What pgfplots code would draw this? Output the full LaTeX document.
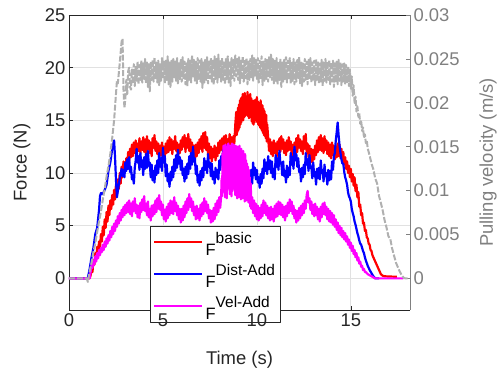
\documentclass[border=0pt]{standalone}
\usepackage{fontspec}
\setmainfont{Liberation Sans}
\usepackage{pgfplots}
\pgfplotsset{compat=1.18}
\definecolor{axc}{HTML}{262626}
\definecolor{velc}{HTML}{B0B0B0}
\definecolor{velax}{HTML}{808080}
\definecolor{gridc}{HTML}{E1E1E1}
\definecolor{cred}{RGB}{255,0,0}
\definecolor{cblue}{RGB}{0,0,255}
\definecolor{cmag}{RGB}{255,0,255}
\newcommand{\lsup}[1]{\rule{0pt}{27bp}\raisebox{12bp}{\fontsize{15.5}{16}\selectfont #1}\hspace{3bp}}
\begin{document}
\begin{tikzpicture}
\begin{axis}[name=ax, scale only axis, width=341bp, height=295bp,
  xmin=0, xmax=18.15, ymin=-3, ymax=25,
  xtick={0,5,10,15}, ytick={0,5,10,15,20,25}, xticklabels={},
  axis x line*=box, axis y line*=left,
  axis line style={axc, line width=0.6bp},
  tick align=inside, major tick length=4bp,
  tick style={axc, line width=0.6bp},
  grid=major, major grid style={gridc, line width=0.7bp},
  tick label style={font=\fontsize{18.5}{20}\selectfont, text=axc},
  /pgf/number format/assume math mode=true,
  label style={font=\fontsize{18.5}{20}\selectfont, text=axc},
  xlabel={Time (s)}, ylabel={Force (N)},
  xlabel style={at={(axis description cs:0.5,-0.1864)}, anchor=base},
  ylabel style={at={(axis description cs:-0.138,0.5)}, anchor=center},
  legend style={at={(axis description cs:0.2375,0.285)}, anchor=north west,
    draw=axc, line width=0.6bp, fill=white, font=\fontsize{16.5}{18}\selectfont,
    inner xsep=3bp, inner ysep=1.5bp,
    nodes={inner xsep=2bp, inner ysep=1bp, text depth=0bp},
    row sep=3bp, cells={anchor=west}},
  legend image code/.code={\path[draw=none] (0bp,-5bp) rectangle (48bp,5bp);
    \draw[#1, line width=2.4bp] (0bp,0bp) -- (48bp,0bp);},
  line join=round]
\addplot[cred, line width=2.2bp] table[row sep=\\] {
0 0\\ 1.1 0\\ 1.15 0.3\\ 1.2 0.9\\ 1.25 0.6\\ 1.3 1.7\\ 1.35 1.3\\ 1.4 2.4\\ 1.45 1.9\\ 1.5 3.0\\ 1.55 2.4\\ 1.6 3.5\\ 1.65 2.9\\ 1.7 4.2\\ 1.75 3.5\\ 1.8 4.9\\ 1.85 4.1\\ 1.9 5.6\\ 1.95 4.8\\ 2.0 6.3\\ 2.05 5.4\\ 2.1 6.9\\ 2.15 6.0\\ 2.2 7.4\\ 2.25 6.6\\ 2.3 7.9\\ 2.35 7.0\\ 2.4 8.4\\ 2.45 7.5\\ 2.5 8.9\\ 2.55 8.0\\ 2.6 9.4\\ 2.65 8.5\\ 2.7 10.0\\ 2.75 9.0\\ 2.8 10.6\\ 2.85 9.6\\ 2.9 11.1\\ 2.95 10.1\\
3.0 10.2\\ 3.05 11.4\\ 3.1 10.8\\ 3.15 12.0\\ 3.2 11.1\\ 3.25 12.3\\ 3.3 11.5\\ 3.35 12.7\\ 3.4 11.6\\ 3.45 12.9\\ 3.5 11.9\\ 3.55 13.1\\ 3.6 11.8\\ 3.65 12.8\\ 3.7 12.1\\ 3.75 13.3\\ 3.8 11.9\\ 3.85 13.0\\ 3.9 12.2\\ 3.95 13.4\\
4.0 12.0\\ 4.05 13.2\\ 4.1 11.7\\ 4.15 13.5\\ 4.2 12.3\\ 4.25 13.1\\ 4.3 11.9\\ 4.35 12.9\\ 4.4 11.6\\ 4.45 13.3\\ 4.5 12.4\\ 4.55 13.6\\ 4.6 12.1\\ 4.65 13.0\\ 4.7 11.8\\ 4.75 12.8\\ 4.8 11.4\\ 4.85 12.6\\ 4.9 11.7\\ 4.95 12.9\\
5.0 11.3\\ 5.05 12.5\\ 5.1 11.6\\ 5.15 12.8\\ 5.2 11.9\\ 5.25 13.1\\ 5.3 12.0\\ 5.35 13.4\\ 5.4 12.2\\ 5.45 13.2\\ 5.5 11.8\\ 5.55 13.0\\ 5.6 12.3\\ 5.65 13.5\\ 5.7 12.1\\ 5.75 12.9\\ 5.8 11.6\\ 5.85 12.7\\ 5.9 11.9\\ 5.95 13.1\\
6.0 12.2\\ 6.05 13.4\\ 6.1 12.5\\ 6.15 13.6\\ 6.2 12.0\\ 6.25 13.3\\ 6.3 12.4\\ 6.35 13.7\\ 6.4 12.1\\ 6.45 13.2\\ 6.5 11.8\\ 6.55 12.9\\ 6.6 11.5\\ 6.65 12.6\\ 6.7 11.3\\ 6.75 12.7\\ 6.8 11.6\\ 6.85 12.9\\ 6.9 11.9\\ 6.95 13.2\\
7.0 12.3\\ 7.05 13.5\\ 7.1 12.0\\ 7.15 13.8\\ 7.2 12.4\\ 7.25 13.9\\ 7.3 12.2\\ 7.35 13.4\\ 7.4 11.7\\ 7.45 12.8\\ 7.5 11.4\\ 7.55 12.5\\ 7.6 11.1\\ 7.65 12.3\\ 7.7 11.5\\ 7.75 12.6\\ 7.8 11.2\\ 7.85 12.4\\ 7.9 11.6\\ 7.95 12.9\\
8.0 11.9\\ 8.05 13.1\\ 8.1 12.2\\ 8.15 13.3\\ 8.2 12.0\\ 8.25 13.5\\ 8.3 12.4\\ 8.35 13.6\\ 8.4 12.1\\ 8.45 13.2\\ 8.5 12.6\\ 8.55 13.7\\ 8.6 12.3\\ 8.65 13.4\\ 8.7 12.7\\ 8.75 13.5\\ 8.8 12.8\\ 8.85 14.6\\
8.9 15.8\\ 8.925 13.6\\ 8.95 15.4\\ 8.975 13.9\\ 9.0 16.2\\ 9.025 14.1\\ 9.05 16.5\\ 9.075 14.3\\ 9.1 16.9\\ 9.125 14.6\\ 9.15 17.1\\ 9.175 14.8\\ 9.2 17.2\\ 9.225 15.1\\ 9.25 17.5\\ 9.275 15.0\\ 9.3 17.4\\ 9.325 15.3\\ 9.35 17.6\\ 9.375 15.4\\ 9.4 17.0\\ 9.425 15.6\\ 9.45 17.3\\ 9.475 15.5\\ 9.5 17.7\\ 9.525 15.4\\ 9.55 17.4\\ 9.575 15.2\\ 9.6 17.3\\ 9.625 15.6\\ 9.65 17.5\\ 9.675 15.3\\ 9.7 17.1\\ 9.725 14.9\\ 9.75 16.9\\ 9.775 14.7\\ 9.8 16.6\\ 9.825 14.6\\ 9.85 16.9\\ 9.875 14.8\\ 9.9 16.8\\ 9.925 15.2\\ 9.95 17.0\\ 9.975 15.0\\ 10.0 17.2\\ 10.025 14.8\\ 10.05 16.8\\ 10.075 14.6\\ 10.1 16.6\\ 10.125 14.5\\ 10.15 16.7\\ 10.175 14.3\\ 10.2 16.9\\ 10.225 14.2\\ 10.25 16.5\\ 10.275 14.0\\ 10.3 16.4\\ 10.325 13.8\\ 10.35 16.1\\ 10.375 13.6\\ 10.4 15.9\\ 10.425 13.5\\ 10.45 15.6\\ 10.475 13.3\\ 10.5 15.5\\ 10.525 13.0\\ 10.55 14.6\\
10.6 13.4\\ 10.65 12.1\\ 10.7 13.2\\ 10.75 11.8\\ 10.8 12.9\\ 10.85 11.6\\ 10.9 13.1\\ 10.95 11.9\\ 11.0 12.8\\ 11.05 11.5\\ 11.1 13.0\\ 11.15 12.2\\ 11.2 13.3\\ 11.25 12.0\\ 11.3 13.5\\ 11.35 12.3\\ 11.4 13.2\\ 11.45 11.9\\ 11.5 12.9\\ 11.55 11.7\\
11.6 13.1\\ 11.65 12.1\\ 11.7 13.4\\ 11.75 12.2\\ 11.8 13.0\\ 11.85 11.8\\ 11.9 12.7\\ 11.95 11.4\\ 12.0 12.9\\ 12.05 11.6\\ 12.1 13.3\\ 12.15 12.0\\ 12.2 13.6\\ 12.25 12.4\\ 12.3 13.2\\ 12.35 12.1\\ 12.4 13.0\\ 12.45 11.8\\ 12.5 13.5\\ 12.55 12.3\\
12.6 13.7\\ 12.65 12.0\\ 12.7 12.8\\ 12.75 11.5\\ 12.8 12.6\\ 12.85 11.2\\ 12.9 12.3\\ 12.95 11.0\\ 13.0 12.2\\ 13.05 11.3\\ 13.1 12.6\\ 13.15 11.7\\ 13.2 13.1\\ 13.25 12.0\\ 13.3 13.4\\ 13.35 12.2\\ 13.4 13.6\\ 13.45 12.1\\ 13.5 13.3\\ 13.55 11.9\\
13.6 13.5\\ 13.65 12.2\\ 13.7 13.1\\ 13.75 11.8\\ 13.8 12.9\\ 13.85 11.6\\ 13.9 12.7\\ 13.95 11.4\\ 14.0 12.9\\ 14.05 11.7\\ 14.1 12.6\\ 14.15 11.3\\ 14.2 12.5\\ 14.25 11.5\\ 14.3 12.8\\ 14.35 11.6\\ 14.4 12.7\\ 14.45 11.4\\ 14.5 12.3\\ 14.55 11.0\\
14.6 12.0\\ 14.65 10.8\\ 14.7 11.5\\ 14.75 10.4\\ 14.8 11.1\\ 14.85 10.0\\ 14.9 10.7\\ 14.95 9.6\\ 15.0 10.4\\ 15.05 9.2\\ 15.1 9.9\\ 15.15 8.8\\ 15.2 9.6\\ 15.25 8.3\\ 15.3 8.9\\ 15.35 7.7\\ 15.4 8.2\\ 15.45 6.8\\ 15.5 7.0\\ 15.55 6.0\\ 15.6 6.2\\ 15.65 5.2\\ 15.7 5.3\\ 15.75 4.5\\ 15.8 4.6\\ 15.85 3.9\\ 15.9 3.8\\ 15.95 3.3\\ 16.0 3.2\\ 16.05 2.7\\ 16.1 2.6\\ 16.15 2.2\\ 16.2 2.0\\ 16.3 1.6\\ 16.4 1.2\\ 16.5 0.8\\ 16.6 0.4\\ 16.7 0.25\\ 16.8 0.2\\ 17.45 0.15\\
};
\addlegendentry{F\lsup{basic}}
\addplot[cblue, line width=2.2bp] table[row sep=\\] {
0 0\\ 1.0 0\\ 1.1 0.9\\ 1.2 2.0\\ 1.3 2.9\\ 1.4 4.2\\ 1.5 4.8\\ 1.6 6.5\\ 1.65 7.8\\ 1.7 8.1\\ 1.8 8.0\\ 1.9 8.4\\ 2.0 8.9\\ 2.1 10.2\\ 2.2 11.0\\ 2.3 12.3\\ 2.4 13.1\\ 2.45 11.5\\ 2.5 9.4\\ 2.55 7.7\\ 2.6 8.3\\ 2.7 9.5\\
2.8 10.4\\ 2.85 9.7\\ 2.9 10.3\\ 2.95 9.6\\ 3.0 11.0\\ 3.05 10.2\\ 3.1 11.3\\ 3.15 10.4\\ 3.2 11.5\\ 3.25 10.1\\ 3.3 10.6\\ 3.35 9.4\\ 3.4 9.8\\ 3.45 9.0\\ 3.5 10.5\\ 3.55 11.2\\ 3.6 12.3\\ 3.65 11.0\\ 3.7 11.6\\ 3.75 10.3\\ 3.8 11.9\\ 3.85 10.6\\ 3.9 11.2\\ 3.95 9.8\\
4.0 11.5\\ 4.05 10.4\\ 4.1 11.8\\ 4.15 10.5\\ 4.2 12.1\\ 4.25 10.7\\ 4.3 11.0\\ 4.35 9.6\\ 4.4 10.8\\ 4.45 9.3\\ 4.5 10.2\\ 4.55 9.1\\ 4.6 10.7\\ 4.65 9.8\\ 4.7 11.2\\ 4.75 10.0\\ 4.8 11.9\\ 4.85 10.6\\ 4.9 11.4\\ 4.95 10.2\\
5.0 12.4\\ 5.05 11.0\\ 5.1 11.6\\ 5.15 9.7\\ 5.2 10.8\\ 5.25 9.2\\ 5.3 9.9\\ 5.35 8.7\\ 5.4 10.1\\ 5.45 9.3\\ 5.5 10.6\\ 5.55 9.6\\ 5.6 11.3\\ 5.65 10.2\\ 5.7 11.7\\ 5.75 10.5\\ 5.8 12.2\\ 5.85 10.9\\ 5.9 11.5\\ 5.95 10.3\\
6.0 11.2\\ 6.05 9.8\\ 6.1 10.4\\ 6.15 9.2\\ 6.2 10.6\\ 6.25 9.5\\ 6.3 10.9\\ 6.35 9.9\\ 6.4 11.6\\ 6.45 10.4\\ 6.5 11.9\\ 6.55 10.8\\ 6.6 12.5\\ 6.65 11.1\\ 6.7 11.4\\ 6.75 9.9\\ 6.8 10.7\\ 6.85 9.1\\ 6.9 9.8\\ 6.95 8.8\\
7.0 10.2\\ 7.05 9.3\\ 7.1 10.5\\ 7.15 9.6\\ 7.2 11.4\\ 7.25 10.3\\ 7.3 11.1\\ 7.35 10.0\\ 7.4 11.8\\ 7.45 10.6\\ 7.5 11.0\\ 7.55 9.7\\ 7.6 10.9\\ 7.65 9.4\\ 7.7 10.1\\ 7.75 9.0\\ 7.8 10.5\\ 7.85 9.6\\ 7.9 10.3\\ 7.95 9.4\\
8.0 11.2\\ 8.05 10.3\\ 8.1 11.6\\ 8.15 10.8\\ 8.2 12.2\\ 8.25 11.1\\ 8.3 12.0\\ 8.35 11.0\\ 8.4 12.6\\ 8.45 11.4\\ 8.5 11.9\\ 8.55 10.6\\ 8.6 11.5\\ 8.65 10.2\\ 8.7 11.1\\ 8.75 9.9\\ 8.8 10.8\\ 8.85 9.5\\ 8.9 10.2\\ 8.95 9.1\\
9.0 10.6\\ 9.05 9.4\\ 9.1 10.0\\ 9.15 8.9\\ 9.2 11.1\\ 9.25 9.9\\ 9.3 10.4\\ 9.35 9.3\\ 9.4 10.8\\ 9.45 9.6\\ 9.5 9.9\\ 9.55 8.7\\ 9.6 10.1\\ 9.65 9.2\\ 9.7 10.3\\ 9.75 9.0\\ 9.8 11.0\\ 9.85 9.8\\ 9.9 10.5\\ 9.95 9.4\\
10.0 10.3\\ 10.05 9.1\\ 10.1 9.6\\ 10.15 8.6\\ 10.2 9.9\\ 10.25 9.0\\ 10.3 10.4\\ 10.35 9.5\\ 10.4 11.3\\ 10.45 10.2\\ 10.5 11.0\\ 10.55 9.9\\ 10.6 11.6\\ 10.65 10.4\\ 10.7 11.2\\ 10.75 10.0\\ 10.8 11.1\\ 10.85 9.6\\ 10.9 10.4\\ 10.95 9.4\\
11.0 11.7\\ 11.05 10.6\\ 11.1 11.4\\ 11.15 10.3\\ 11.2 12.1\\ 11.25 10.9\\ 11.3 11.0\\ 11.35 9.8\\ 11.4 11.1\\ 11.45 9.7\\ 11.5 10.2\\ 11.55 9.1\\ 11.6 10.7\\ 11.65 9.6\\ 11.7 10.5\\ 11.75 9.8\\ 11.8 11.9\\ 11.85 10.8\\ 11.9 11.5\\ 11.95 10.4\\
12.0 12.5\\ 12.05 11.2\\ 12.1 11.8\\ 12.15 10.6\\ 12.2 11.4\\ 12.25 10.1\\ 12.3 10.4\\ 12.35 9.2\\ 12.4 10.5\\ 12.45 9.6\\ 12.5 10.8\\ 12.55 9.9\\ 12.6 11.9\\ 12.65 10.8\\ 12.7 11.3\\ 12.75 10.2\\ 12.8 11.7\\ 12.85 10.5\\ 12.9 10.6\\ 12.95 9.5\\
13.0 11.0\\ 13.05 9.7\\ 13.1 10.1\\ 13.15 8.9\\ 13.2 10.4\\ 13.25 9.5\\ 13.3 10.5\\ 13.35 9.4\\ 13.4 11.2\\ 13.45 10.0\\ 13.5 10.3\\ 13.55 9.2\\ 13.6 10.8\\ 13.65 9.7\\ 13.7 10.0\\ 13.75 8.9\\ 13.8 10.3\\ 13.85 9.3\\ 13.9 10.2\\ 13.95 9.4\\
14.0 11.1\\ 14.05 10.3\\ 14.1 11.6\\ 14.15 11.9\\ 14.2 13.1\\ 14.25 13.9\\ 14.3 14.8\\ 14.35 13.6\\ 14.4 12.6\\ 14.45 11.9\\ 14.5 11.3\\ 14.55 10.9\\ 14.6 10.9\\ 14.65 10.1\\ 14.7 9.6\\ 14.75 9.3\\ 14.8 8.9\\ 14.85 8.2\\ 14.9 7.8\\ 14.95 7.6\\ 15.0 7.3\\ 15.05 6.6\\ 15.1 6.2\\ 15.15 5.9\\ 15.2 5.4\\ 15.25 5.1\\ 15.3 4.7\\ 15.35 4.3\\ 15.4 4.0\\ 15.45 3.6\\ 15.5 3.3\\ 15.55 3.2\\ 15.6 2.9\\ 15.65 2.6\\ 15.7 2.4\\ 15.75 2.0\\ 15.8 1.7\\ 15.9 1.2\\ 16.0 0.8\\ 16.1 0.5\\ 16.2 0.2\\ 16.3 0\\ 16.5 0\\
};
\addlegendentry{F\lsup{Dist-Add}}
\addplot[cmag, line width=2.2bp] table[row sep=\\] {
0 0\\ 1.1 0\\ 1.15 0.6\\ 1.2 1.3\\ 1.25 1.0\\ 1.3 1.7\\ 1.35 1.3\\ 1.4 2.1\\ 1.45 1.6\\ 1.5 2.4\\ 1.55 1.9\\ 1.6 2.7\\ 1.65 2.2\\ 1.7 2.9\\ 1.75 2.5\\ 1.8 3.2\\ 1.85 2.7\\ 1.9 3.5\\ 1.95 3.0\\ 2.0 3.8\\ 2.05 3.3\\ 2.1 4.1\\ 2.15 3.6\\ 2.2 4.5\\ 2.25 3.9\\ 2.3 4.9\\ 2.35 4.2\\ 2.4 5.2\\ 2.45 4.5\\ 2.5 5.5\\ 2.55 4.9\\ 2.6 5.9\\ 2.65 5.2\\ 2.7 6.2\\ 2.75 5.5\\ 2.8 6.5\\ 2.85 5.8\\ 2.9 6.8\\ 2.95 6.0\\
3.0 7.0\\ 3.05 6.2\\ 3.1 7.2\\ 3.15 6.3\\ 3.2 7.4\\ 3.25 6.1\\ 3.3 7.1\\ 3.35 5.9\\ 3.4 7.3\\ 3.45 6.4\\ 3.5 7.6\\ 3.55 6.2\\ 3.6 7.0\\ 3.65 5.8\\ 3.7 6.9\\ 3.75 5.7\\ 3.8 7.2\\ 3.85 6.3\\ 3.9 7.5\\ 3.95 6.5\\
4.0 7.8\\ 4.05 6.4\\ 4.1 7.1\\ 4.15 6.0\\ 4.2 7.3\\ 4.25 5.8\\ 4.3 6.6\\ 4.35 5.5\\ 4.4 6.9\\ 4.45 5.9\\ 4.5 7.0\\ 4.55 6.1\\ 4.6 7.4\\ 4.65 6.3\\ 4.7 7.6\\ 4.75 6.6\\ 4.8 7.9\\ 4.85 6.5\\ 4.9 7.3\\ 4.95 6.0\\
5.0 7.0\\ 5.05 5.6\\ 5.1 6.5\\ 5.15 5.4\\ 5.2 6.8\\ 5.25 5.7\\ 5.3 7.1\\ 5.35 6.0\\ 5.4 7.4\\ 5.45 6.2\\ 5.5 7.3\\ 5.55 6.1\\ 5.6 7.7\\ 5.65 6.4\\ 5.7 7.2\\ 5.75 6.0\\ 5.8 6.9\\ 5.85 5.6\\ 5.9 6.6\\ 5.95 5.3\\
6.0 6.6\\ 6.05 5.5\\ 6.1 6.9\\ 6.15 5.8\\ 6.2 7.3\\ 6.25 6.2\\ 6.3 7.6\\ 6.35 6.5\\ 6.4 8.0\\ 6.45 6.8\\ 6.5 7.6\\ 6.55 6.4\\ 6.6 7.3\\ 6.65 6.0\\ 6.7 6.8\\ 6.75 5.6\\ 6.8 6.9\\ 6.85 5.7\\ 6.9 6.6\\ 6.95 5.5\\
7.0 7.0\\ 7.05 5.9\\ 7.1 7.2\\ 7.15 6.1\\ 7.2 7.6\\ 7.25 6.4\\ 7.3 7.3\\ 7.35 6.2\\ 7.4 7.0\\ 7.45 5.7\\ 7.5 6.5\\ 7.55 5.3\\ 7.6 6.4\\ 7.65 5.4\\ 7.7 6.7\\ 7.75 5.6\\ 7.8 7.1\\ 7.85 6.0\\ 7.9 7.4\\ 7.95 6.3\\
8.0 7.7\\ 8.05 6.7\\ 8.1 7.9\\ 8.125 9.5\\ 8.15 7.8\\ 8.175 11.9\\ 8.2 8.2\\ 8.225 12.6\\ 8.25 9.0\\ 8.275 12.3\\ 8.3 7.7\\ 8.325 12.7\\ 8.35 8.4\\ 8.375 11.8\\ 8.4 7.6\\ 8.425 12.5\\ 8.45 8.9\\ 8.475 12.8\\ 8.5 9.3\\ 8.525 12.2\\ 8.55 8.0\\ 8.575 12.6\\ 8.6 8.6\\ 8.625 12.4\\ 8.65 7.8\\ 8.675 12.8\\ 8.7 8.3\\ 8.725 12.1\\ 8.75 9.1\\ 8.775 12.7\\ 8.8 8.5\\ 8.825 12.3\\ 8.85 7.9\\ 8.875 12.6\\ 8.9 8.7\\ 8.925 12.0\\ 8.95 7.6\\ 8.975 12.5\\ 9.0 8.2\\ 9.025 12.2\\ 9.05 7.7\\ 9.075 12.6\\ 9.1 8.9\\ 9.125 11.9\\ 9.15 7.5\\ 9.175 12.3\\ 9.2 8.1\\ 9.225 11.7\\ 9.25 7.6\\ 9.275 12.1\\ 9.3 8.4\\ 9.325 11.4\\ 9.35 7.3\\ 9.375 11.8\\ 9.4 7.9\\ 9.425 11.2\\ 9.45 7.4\\ 9.475 10.9\\ 9.5 7.8\\ 9.525 10.6\\ 9.55 7.2\\ 9.575 10.3\\ 9.6 7.5\\ 9.625 9.6\\ 9.65 6.8\\ 9.675 9.0\\ 9.7 6.6\\
9.75 7.7\\ 9.8 6.2\\ 9.85 7.4\\ 9.9 5.9\\ 9.95 7.1\\ 10.0 5.6\\ 10.05 6.9\\ 10.1 5.5\\ 10.15 6.7\\ 10.2 5.7\\ 10.25 7.0\\ 10.3 5.9\\ 10.35 7.4\\ 10.4 6.2\\ 10.45 7.2\\ 10.5 6.0\\ 10.55 6.9\\ 10.6 5.7\\ 10.65 6.7\\ 10.7 5.5\\ 10.75 6.8\\ 10.8 5.6\\ 10.85 6.6\\ 10.9 5.4\\ 10.95 6.9\\
11.0 5.8\\ 11.05 7.1\\ 11.1 5.9\\ 11.15 7.3\\ 11.2 6.1\\ 11.25 7.2\\ 11.3 6.0\\ 11.35 7.0\\ 11.4 5.8\\ 11.45 6.8\\ 11.5 5.5\\ 11.55 6.9\\ 11.6 5.9\\ 11.65 7.2\\ 11.7 6.2\\ 11.75 7.5\\ 11.8 6.4\\ 11.85 7.3\\ 11.9 6.1\\ 11.95 6.9\\
12.0 5.7\\ 12.05 6.5\\ 12.1 5.3\\ 12.15 6.4\\ 12.2 5.5\\ 12.25 6.7\\ 12.3 5.7\\ 12.35 6.9\\ 12.4 6.0\\ 12.45 7.1\\ 12.5 6.2\\ 12.55 7.4\\ 12.6 6.6\\ 12.65 7.9\\ 12.7 8.3\\ 12.75 7.2\\ 12.8 7.6\\ 12.85 6.5\\ 12.9 7.3\\ 12.95 6.1\\
13.0 7.0\\ 13.05 5.9\\ 13.1 7.1\\ 13.15 6.0\\ 13.2 6.8\\ 13.25 5.6\\ 13.3 6.6\\ 13.35 5.4\\ 13.4 6.8\\ 13.45 5.8\\ 13.5 7.1\\ 13.55 6.1\\ 13.6 7.2\\ 13.65 6.0\\ 13.7 6.8\\ 13.75 5.6\\ 13.8 6.6\\ 13.85 5.4\\ 13.9 6.4\\ 13.95 5.3\\
14.0 6.2\\ 14.05 5.1\\ 14.1 6.0\\ 14.15 4.9\\ 14.2 5.6\\ 14.25 4.6\\ 14.3 5.3\\ 14.35 4.3\\ 14.4 5.0\\ 14.45 4.1\\ 14.5 4.8\\ 14.55 3.9\\ 14.6 4.5\\ 14.65 3.7\\ 14.7 4.3\\ 14.75 3.5\\ 14.8 4.0\\ 14.85 3.2\\ 14.9 3.7\\ 14.95 2.9\\ 15.0 3.4\\ 15.05 2.6\\ 15.1 3.1\\ 15.15 2.3\\ 15.2 2.7\\ 15.25 2.0\\ 15.3 2.4\\ 15.35 1.7\\ 15.4 2.0\\ 15.45 1.4\\ 15.5 1.6\\ 15.55 1.1\\ 15.6 1.2\\ 15.65 0.8\\ 15.7 0.9\\ 15.75 0.6\\ 15.8 0.6\\ 15.9 0.4\\ 16.0 0.3\\ 16.1 0.2\\ 16.2 0.1\\ 16.3 0\\ 17.8 0\\
};
\addlegendentry{F\lsup{Vel-Add}}
\end{axis}
\begin{axis}[scale only axis, width=341bp, height=295bp,
  xmin=0, xmax=18.15, ymin=-0.0036, ymax=0.03,
  axis x line*=bottom, x axis line style={draw=none},
  xtick={0,5,10,15}, x tick style={draw=none},
  axis y line*=right,
  ytick={0,0.005,0.01,0.015,0.02,0.025,0.03},
  yticklabels={0,0.005,0.01,0.015,0.02,0.025,0.03},
  scaled y ticks=false,
  y axis line style={velax, line width=0.6bp},
  tick align=inside, major tick length=4bp,
  y tick style={velax, line width=0.6bp},
  tick label style={font=\fontsize{18.5}{20}\selectfont},
  x tick label style={text=axc}, y tick label style={text=velax},
  /pgf/number format/assume math mode=true,
  ylabel={Pulling velocity (m/s)},
  label style={font=\fontsize{18.5}{20}\selectfont, text=velax},
  ylabel style={at={(axis description cs:1.2287,0.5)}, anchor=center},
  line join=round]
\addplot[velc, line width=2bp, dash pattern=on 6bp off 1.8bp] table[row sep=\\] {
0 0\\ 0.95 0\\ 1.0 -0.0004\\ 1.05 0.0002\\ 1.1 0.0008\\ 1.2 0.0018\\ 1.3 0.0030\\ 1.4 0.0040\\ 1.5 0.0053\\ 1.6 0.0065\\ 1.7 0.0076\\ 1.8 0.0090\\ 1.9 0.0102\\ 2.0 0.0116\\ 2.1 0.0128\\ 2.2 0.0142\\ 2.3 0.0160\\ 2.4 0.0180\\ 2.5 0.0210\\ 2.55 0.0225\\ 2.6 0.0222\\ 2.7 0.0245\\ 2.8 0.0270\\ 2.85 0.0273\\ 2.9 0.0215\\ 2.95 0.0194\\ 3.0 0.0205\\ 3.05 0.0226\\ 3.1 0.0210\\ 3.15 0.0236\\ 3.2 0.0240\\ 3.25 0.0218\\
3.3 0.0215\\ 3.35 0.0238\\ 3.4 0.0222\\ 3.45 0.0244\\ 3.5 0.0219\\ 3.55 0.0241\\ 3.6 0.0225\\ 3.65 0.0247\\ 3.7 0.0221\\ 3.75 0.0243\\ 3.8 0.0226\\ 3.85 0.0248\\ 3.9 0.0223\\ 3.95 0.0245\\
4.0 0.0227\\ 4.05 0.0250\\ 4.1 0.0222\\ 4.15 0.0246\\ 4.2 0.0218\\ 4.25 0.0244\\ 4.3 0.0213\\ 4.35 0.0247\\ 4.4 0.0226\\ 4.45 0.0249\\ 4.5 0.0224\\ 4.55 0.0252\\ 4.6 0.0228\\ 4.65 0.0246\\ 4.7 0.0223\\ 4.75 0.0248\\ 4.8 0.0220\\ 4.85 0.0245\\ 4.9 0.0225\\ 4.95 0.0251\\
5.0 0.0227\\ 5.05 0.0247\\ 5.1 0.0222\\ 5.15 0.0249\\ 5.2 0.0226\\ 5.25 0.0253\\ 5.3 0.0221\\ 5.35 0.0246\\ 5.4 0.0218\\ 5.45 0.0248\\ 5.5 0.0224\\ 5.55 0.0250\\ 5.6 0.0229\\ 5.65 0.0247\\ 5.7 0.0225\\ 5.75 0.0251\\ 5.8 0.0222\\ 5.85 0.0246\\ 5.9 0.0227\\ 5.95 0.0249\\
6.0 0.0224\\ 6.05 0.0252\\ 6.1 0.0228\\ 6.15 0.0247\\ 6.2 0.0221\\ 6.25 0.0245\\ 6.3 0.0219\\ 6.35 0.0250\\ 6.4 0.0226\\ 6.45 0.0248\\ 6.5 0.0223\\ 6.55 0.0254\\ 6.6 0.0229\\ 6.65 0.0249\\ 6.7 0.0225\\ 6.75 0.0247\\ 6.8 0.0222\\ 6.85 0.0251\\ 6.9 0.0227\\ 6.95 0.0248\\
7.0 0.0224\\ 7.05 0.0250\\ 7.1 0.0217\\ 7.15 0.0246\\ 7.2 0.0223\\ 7.25 0.0249\\ 7.3 0.0226\\ 7.35 0.0252\\ 7.4 0.0222\\ 7.45 0.0247\\ 7.5 0.0228\\ 7.55 0.0251\\ 7.6 0.0224\\ 7.65 0.0248\\ 7.7 0.0220\\ 7.75 0.0253\\ 7.8 0.0227\\ 7.85 0.0250\\ 7.9 0.0223\\ 7.95 0.0255\\
8.0 0.0229\\ 8.05 0.0249\\ 8.1 0.0224\\ 8.15 0.0251\\ 8.2 0.0226\\ 8.25 0.0247\\ 8.3 0.0221\\ 8.35 0.0250\\ 8.4 0.0227\\ 8.45 0.0253\\ 8.5 0.0223\\ 8.55 0.0248\\ 8.6 0.0219\\ 8.65 0.0251\\ 8.7 0.0228\\ 8.75 0.0249\\ 8.8 0.0225\\ 8.85 0.0254\\ 8.9 0.0230\\ 8.95 0.0250\\
9.0 0.0226\\ 9.05 0.0252\\ 9.1 0.0222\\ 9.15 0.0248\\ 9.2 0.0227\\ 9.25 0.0253\\ 9.3 0.0224\\ 9.35 0.0249\\ 9.4 0.0228\\ 9.45 0.0251\\ 9.5 0.0221\\ 9.55 0.0247\\ 9.6 0.0226\\ 9.65 0.0250\\ 9.7 0.0229\\ 9.75 0.0254\\ 9.8 0.0225\\ 9.85 0.0252\\ 9.9 0.0231\\ 9.95 0.0249\\
10.0 0.0227\\ 10.05 0.0251\\ 10.1 0.0223\\ 10.15 0.0248\\ 10.2 0.0228\\ 10.25 0.0253\\ 10.3 0.0220\\ 10.35 0.0247\\ 10.4 0.0225\\ 10.45 0.0250\\ 10.5 0.0227\\ 10.55 0.0249\\ 10.6 0.0224\\ 10.65 0.0252\\ 10.7 0.0229\\ 10.75 0.0255\\ 10.8 0.0226\\ 10.85 0.0250\\ 10.9 0.0222\\ 10.95 0.0248\\
11.0 0.0225\\ 11.05 0.0251\\ 11.1 0.0221\\ 11.15 0.0247\\ 11.2 0.0226\\ 11.25 0.0250\\ 11.3 0.0218\\ 11.35 0.0246\\ 11.4 0.0224\\ 11.45 0.0249\\ 11.5 0.0227\\ 11.55 0.0252\\ 11.6 0.0223\\ 11.65 0.0248\\ 11.7 0.0226\\ 11.75 0.0251\\ 11.8 0.0222\\ 11.85 0.0247\\ 11.9 0.0225\\ 11.95 0.0250\\
12.0 0.0221\\ 12.05 0.0246\\ 12.1 0.0224\\ 12.15 0.0249\\ 12.2 0.0227\\ 12.25 0.0252\\ 12.3 0.0222\\ 12.35 0.0247\\ 12.4 0.0219\\ 12.45 0.0245\\ 12.5 0.0224\\ 12.55 0.0250\\ 12.6 0.0226\\ 12.65 0.0247\\ 12.7 0.0221\\ 12.75 0.0249\\ 12.8 0.0227\\ 12.85 0.0251\\ 12.9 0.0223\\ 12.95 0.0246\\
13.0 0.0225\\ 13.05 0.0248\\ 13.1 0.0220\\ 13.15 0.0250\\ 13.2 0.0226\\ 13.25 0.0247\\ 13.3 0.0222\\ 13.35 0.0245\\ 13.4 0.0224\\ 13.45 0.0249\\ 13.5 0.0219\\ 13.55 0.0246\\ 13.6 0.0225\\ 13.65 0.0250\\ 13.7 0.0223\\ 13.75 0.0247\\ 13.8 0.0226\\ 13.85 0.0249\\ 13.9 0.0221\\ 13.95 0.0246\\
14.0 0.0224\\ 14.05 0.0248\\ 14.1 0.0218\\ 14.15 0.0245\\ 14.2 0.0223\\ 14.25 0.0247\\ 14.3 0.0221\\ 14.35 0.0249\\ 14.4 0.0225\\ 14.45 0.0246\\ 14.5 0.0220\\ 14.55 0.0244\\ 14.6 0.0223\\ 14.65 0.0245\\ 14.7 0.0221\\ 14.75 0.0243\\ 14.8 0.0222\\ 14.85 0.0241\\ 14.9 0.0219\\ 14.95 0.0238\\
15.0 0.0216\\ 15.05 0.0230\\ 15.1 0.0208\\ 15.15 0.0220\\ 15.2 0.0200\\ 15.25 0.0207\\ 15.3 0.0190\\ 15.35 0.0196\\ 15.4 0.0184\\ 15.45 0.0188\\ 15.5 0.0176\\ 15.55 0.0180\\ 15.6 0.0168\\ 15.65 0.0172\\ 15.7 0.0160\\ 15.75 0.0164\\ 15.8 0.0154\\ 15.85 0.0157\\ 15.9 0.0148\\ 16.0 0.0140\\ 16.1 0.0131\\ 16.2 0.0124\\ 16.3 0.0114\\ 16.4 0.0108\\ 16.5 0.0094\\ 16.6 0.0086\\ 16.7 0.0077\\ 16.8 0.0066\\ 16.9 0.0058\\ 17.0 0.0048\\ 17.1 0.0045\\ 17.2 0.0034\\ 17.3 0.0026\\ 17.4 0.0018\\ 17.5 0.0013\\ 17.6 0.0008\\ 17.7 0.0004\\ 17.8 0.0001\\ 17.9 0\\ 18.05 0\\
};
\end{axis}
\pgfresetboundingbox
\path ([xshift=-69bp,yshift=-62bp]ax.south west) rectangle ([xshift=90bp,yshift=15bp]ax.north east);
\end{tikzpicture}
\end{document}
